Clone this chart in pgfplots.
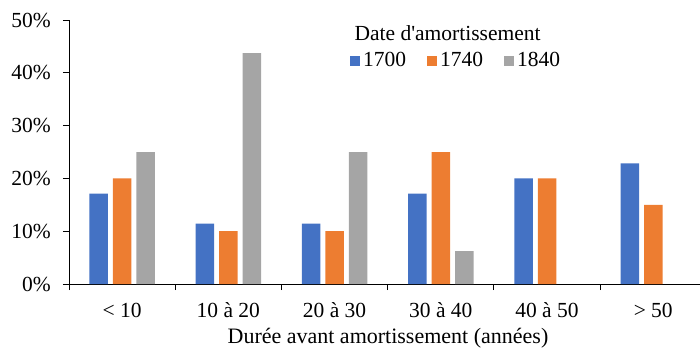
\documentclass[border=0pt]{standalone}
\usepackage{fontspec}
\setmainfont{Liberation Serif}[Ligatures=TeXOff]
\usepackage{pgfplots}
\pgfplotsset{compat=1.18}
\definecolor{cblue}{HTML}{4472C4}
\definecolor{corange}{HTML}{ED7D31}
\definecolor{cgray}{HTML}{A5A5A5}
\begin{document}
\fontsize{21.5}{25}\selectfont
\begin{tikzpicture}
\path[use as bounding box] (-69pt,-65pt) rectangle (631pt,284pt);
\begin{axis}[
  at={(0pt,0pt)}, anchor=south west,
  scale only axis, width=631pt, height=264pt,
  xmin=-0.5, xmax=5.44, ymin=0, ymax=50,
  ybar=5pt, bar width=18.5pt,
  axis x line*=bottom, axis y line*=left,
  axis line style={black, line width=0.9pt, -},
  tick align=outside,
  xtick={0,1,2,3,4,5},
  xticklabels={\textless{} 10, 10 à 20, 20 à 30, 30 à 40, 40 à 50, \textgreater{} 50},
  major x tick style={draw=none},
  minor xtick={-0.5,0.5,1.5,2.5,3.5,4.5},
  minor tick length=6pt,
  minor x tick style={black, line width=0.9pt},
  ytick={0,10,20,30,40,50},
  yticklabels={0\%,10\%,20\%,30\%,40\%,50\%},
  major tick length=6pt,
  y tick style={black, line width=0.7pt},
  xticklabel style={anchor=base, inner sep=0pt, yshift=-27pt},
  yticklabel style={anchor=east, inner sep=0pt, xshift=-12pt},
  xlabel={Durée avant amortissement (années)},
  xlabel style={at={(axis description cs:0.5055,0)}, anchor=base, inner sep=0pt, yshift=-59pt, font=\fontsize{22}{26}\selectfont},
  legend columns=3,
  legend style={at={(0.4453,0.845)}, anchor=west, draw=none, fill=none,
    inner sep=0pt, nodes={inner xsep=3pt, inner ysep=0pt},
    /tikz/every even column/.append style={column sep=18pt}},
  legend image code/.code={\fill[#1] (0pt,-5pt) rectangle (10pt,5pt);},
]
\addplot[fill=cblue, draw=none] coordinates {(0,17.14) (1,11.43) (2,11.43) (3,17.14) (4,20.00) (5,22.86)};
\addplot[fill=corange, draw=none] coordinates {(0,20) (1,10) (2,10) (3,25) (4,20) (5,15)};
\addplot[fill=cgray, draw=none] coordinates {(0,25) (1,43.75) (2,25) (3,6.25)};
\legend{1700,1740,1840}
\node[anchor=base, inner sep=0pt] at (axis description cs:0.600,0.924) {Date d'amortissement};
\end{axis}
\end{tikzpicture}
\end{document}
